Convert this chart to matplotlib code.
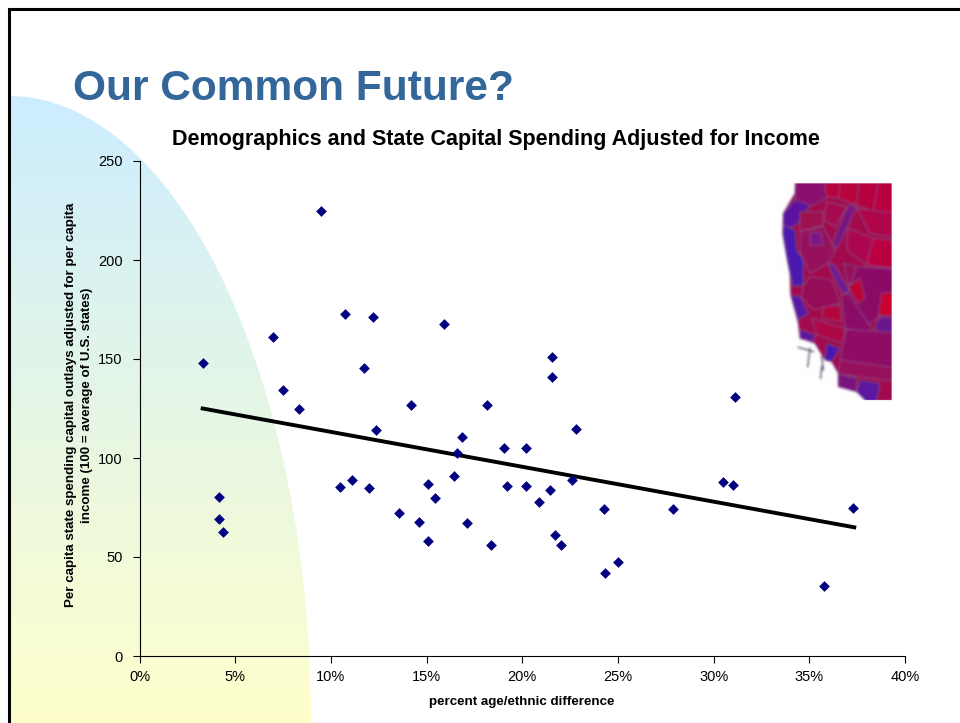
import numpy as np
import matplotlib.pyplot as plt
from matplotlib.patches import Ellipse, Polygon
from matplotlib.ticker import PercentFormatter

# Valeurs
pct_difference = [3.3, 4.15, 4.15, 4.35, 7.0, 7.5, 8.35, 9.5, 10.5, 10.75, 11.1, 11.75, 12.0,
                  12.2, 12.35, 13.55, 14.2, 14.6, 15.05, 15.1, 15.45, 15.9, 16.45, 16.6, 16.85,
                  17.1, 18.15, 18.35, 19.05, 19.2, 20.2, 20.2, 20.85, 21.45, 21.55, 21.55, 21.7,
                  22.05, 22.6, 22.8, 24.25, 24.3, 25.0, 27.9, 30.5, 31.0, 31.1, 35.75, 37.3]
spending = [148, 80.5, 69, 62.5, 161, 134.5, 125, 225, 85.5, 172.5, 89, 145.5, 85,
            171, 114, 72, 127, 67.5, 87, 58, 80, 167.5, 91, 102.5, 110.5,
            67, 127, 56, 105, 86, 105, 86, 78, 84, 151, 141, 61,
            56, 89, 114.5, 74, 42, 47.5, 74, 88, 86.5, 131, 35.5, 75]
trend_x = [3.3, 37.35]
trend_y = [125, 65]
x_ticks = [0, 5, 10, 15, 20, 25, 30, 35, 40]
y_ticks = [0, 50, 100, 150, 200, 250]

plt.rcParams['font.family'] = ['Liberation Sans', 'DejaVu Sans']

# Carte de la Californie : dessinée à part puis floutée, comme la photo d'origine
map_fig = plt.figure(figsize=(1.5, 2.4), dpi=300)
m = map_fig.add_axes([0, 0, 1, 1])
m.set_xlim(0, 450)
m.set_ylim(720, 0)
m.axis('off')


def map_poly(pts, color, edge='#8a4f86'):
    m.add_patch(Polygon(pts, closed=True, facecolor=color, edgecolor=edge, lw=0.7))


map_poly([(108, 0), (450, 0), (450, 720), (345, 720), (345, 690), (335, 675), (290, 665), (235, 650),
          (235, 610), (215, 575), (195, 570), (165, 520), (120, 505), (115, 460), (92, 375),
          (90, 310), (82, 270), (68, 190), (70, 130), (105, 70)], '#a20a4c')
map_poly([(185, 0), (245, 0), (235, 85), (195, 80)], '#b8043c')
map_poly([(245, 0), (300, 0), (290, 105), (235, 85)], '#b8043c')
map_poly([(300, 0), (360, 0), (340, 125), (290, 105)], '#b8003e')
map_poly([(360, 0), (450, 0), (450, 135), (340, 125)], '#bb0040')
map_poly([(290, 115), (450, 135), (450, 210), (330, 190)], '#b0064a')
map_poly([(265, 175), (340, 205), (320, 285), (260, 240)], '#ae0650')
map_poly([(340, 205), (450, 215), (450, 300), (320, 285)], '#bb0040')
map_poly([(200, 95), (262, 110), (225, 170), (190, 150)], '#a90a50')
map_poly([(108, 0), (190, 0), (200, 85), (150, 110), (110, 100), (105, 70)], '#8a1070')
map_poly([(105, 90), (150, 105), (110, 165), (70, 180), (70, 130)], '#5a12a0')
map_poly([(72, 165), (105, 180), (110, 240), (130, 270), (130, 345), (100, 350), (90, 310), (82, 270), (68, 190)], '#4a18b0')
map_poly([(120, 125), (190, 125), (190, 165), (120, 185)], '#a0104f')
map_poly([(265, 105), (290, 110), (245, 210), (225, 240), (220, 210)], '#7a1480')
map_poly([(120, 185), (190, 170), (225, 240), (205, 280), (150, 310), (120, 250)], '#98105c')
map_poly([(150, 190), (180, 185), (190, 225), (150, 225)], '#7c1488')
map_poly([(130, 345), (150, 320), (215, 330), (240, 400), (160, 420), (125, 380)], '#960c58')
map_poly([(205, 280), (225, 285), (270, 365), (245, 370), (215, 310)], '#701a90')
map_poly([(250, 280), (290, 290), (295, 320), (265, 345)], '#96105c')
map_poly([(290, 290), (450, 300), (450, 360), (355, 440), (320, 470), (265, 370)], '#8b0a66')
map_poly([(300, 325), (315, 385), (295, 400), (265, 350)], '#c00235')
map_poly([(365, 370), (450, 365), (450, 440), (355, 435)], '#c80030')
map_poly([(360, 440), (450, 450), (450, 490), (378, 535), (345, 470)], '#6a1690')
map_poly([(245, 375), (265, 370), (345, 490), (255, 475), (250, 430)], '#8b0c66')
map_poly([(92, 375), (120, 380), (145, 430), (115, 450)], '#5518a8')
map_poly([(190, 410), (240, 405), (245, 455), (185, 445)], '#b3063f')
map_poly([(155, 445), (255, 475), (250, 520), (170, 495)], '#ad0848')
map_poly([(120, 478), (165, 495), (160, 515), (120, 505)], '#5e14a0')
map_poly([(200, 520), (240, 535), (215, 575), (195, 570)], '#4a18b0')
map_poly([(258, 478), (450, 490), (450, 600), (240, 570)], '#8f0c64')
map_poly([(240, 570), (450, 600), (450, 640), (235, 612)], '#98105c')
map_poly([(235, 612), (290, 625), (290, 665), (235, 650)], '#7a1280')
map_poly([(300, 630), (360, 640), (345, 720), (290, 665)], '#5c16a0')
for xs, ys in [([150, 143], [535, 590]), ([185, 190], [560, 600]), ([185, 182], [590, 625]),
               ([115, 160], [532, 545])]:
    m.plot(xs, ys, color='#55556e', lw=1.0)
map_fig.canvas.draw()
map_img = np.asarray(map_fig.canvas.buffer_rgba())[:, :, :3].astype(float) / 255
plt.close(map_fig)
for _ in range(30):
    # petit flou en croix
    map_img = (map_img + np.roll(map_img, 1, 0) + np.roll(map_img, -1, 0)
               + np.roll(map_img, 1, 1) + np.roll(map_img, -1, 1)) / 5
# bords nets en haut, à droite et en bas : l'image est coupée là
map_img[:40] = 1
map_img[690:] = 1
map_img[:, 395:] = 1
map_img[:, :40] = 1

fig = plt.figure(figsize=(9.6, 7.23), dpi=100)

# Fond de la diapositive, en coordonnées pixels
bg = fig.add_axes([0, 0, 1, 1])
bg.axis('off')

blue = np.array([0.80, 0.93, 1.0])
yellow = np.array([1.0, 1.0, 0.80])
t = np.linspace(0, 1, 256)[:, None, None]
grad = blue * (1 - t) + yellow * t
im = bg.imshow(grad, extent=[9, 320, 723, 96], aspect='auto', zorder=1)
clip = Ellipse((9, 723), 604, 1254, transform=bg.transData, facecolor='none', edgecolor='none')
bg.add_patch(clip)
im.set_clip_path(clip)
bg.imshow(map_img, extent=[760, 910, 410, 170], aspect='auto', zorder=2, interpolation='antialiased')
bg.set_xlim(0, 960)
bg.set_ylim(723, 0)

bg.plot([8.5, 8.5, 960], [723, 8.5, 8.5], color='black', lw=2.2, zorder=2, solid_joinstyle='miter')

# Titres
bg.text(73, 100, 'Our Common Future?', fontsize=30.6, fontweight='bold', color='#336699', va='baseline', zorder=4)
bg.text(495.5, 145, 'Demographics and State Capital Spending Adjusted for Income',
        fontsize=15.5, fontweight='bold', ha='center', va='baseline', zorder=4)

# Graphique
ax = fig.add_axes([139.5 / 960, 1 - 656 / 723, (905 - 139.5) / 960, (656 - 161) / 723])
ax.patch.set_alpha(0)
ax.scatter(pct_difference, spending, marker='D', s=30, color='#000080', zorder=3, linewidths=0)
ax.plot(trend_x, trend_y, color='black', lw=2.8, zorder=2)
ax.set_xlim(0, 40)
ax.set_ylim(0, 250)
ax.set_xticks(x_ticks)
ax.set_yticks(y_ticks)
ax.xaxis.set_major_formatter(PercentFormatter(decimals=0))
ax.spines['top'].set_visible(False)
ax.spines['right'].set_visible(False)
ax.tick_params(direction='out', length=5, width=0.8, labelsize=10.5, pad=7)
ax.tick_params(axis='x', pad=5)
fig.text(522 / 960, 1 - 702 / 723, 'percent age/ethnic difference', fontsize=9.6, fontweight='bold',
         ha='center', va='center')
fig.text(79 / 960, 1 - 405 / 723,
         'Per capita state spending capital outlays adjusted for per capita\nincome (100 = average of U.S. states)',
         fontsize=9.6, fontweight='bold', rotation=90, ha='center', va='center', multialignment='center',
         linespacing=1.45)

fig.savefig('out.png', dpi=100)
